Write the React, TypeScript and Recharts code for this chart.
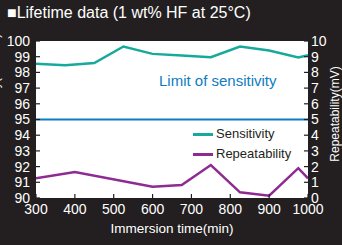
import React from 'react';
import { ComposedChart, Line, XAxis, YAxis, CartesianGrid, ReferenceLine, Legend } from 'recharts';

const sensitivityTimes = [300, 375, 450, 525, 600, 675, 750, 825, 900, 975, 1000];
const sensitivityValues = [98.55, 98.45, 98.6, 99.65, 99.18, 99.08, 98.97, 99.65, 99.4, 98.95, 99.1];
const repeatabilityTimes = [300, 400, 600, 675, 750, 825, 900, 975, 1000];
const repeatabilityValues = [1.25, 1.65, 0.72, 0.83, 2.1, 0.36, 0.15, 1.9, 1.25];
const timeTicks = [300, 400, 500, 600, 700, 800, 900, 1000];
const sensitivityTicks = [90, 91, 92, 93, 94, 95, 96, 97, 98, 99, 100];
const repeatabilityTicks = [0, 1, 2, 3, 4, 5, 6, 7, 8, 9, 10];
const limitOfSensitivity = 95;
const legendOrder = ['Sensitivity', 'Repeatability'];

const sensitivityData = sensitivityTimes.map((t, i) => ({ t, v: sensitivityValues[i] }));
const repeatabilityData = repeatabilityTimes.map((t, i) => ({ t, v: repeatabilityValues[i] }));

const FONT = '"Liberation Sans", Arial, Helvetica, sans-serif';
const BG = '#231f20';
const TEAL = '#17a99b';
const PURPLE = '#8e2a92';
const BLUE = '#0d7cc1';

const tickStyle = { fill: '#ffffff', fontSize: 14, fontFamily: FONT };

const LegendContent = (props: any) => {
  const payload = [...(props.payload || [])].sort(
    (a: any, b: any) => legendOrder.indexOf(a.value) - legendOrder.indexOf(b.value)
  );
  return (
    <div style={{ fontFamily: FONT, fontSize: 13, color: BG }}>
      {payload.map((p: any, i: number) => (
        <div key={i} style={{ display: 'flex', alignItems: 'center', height: 20 }}>
          <span style={{ display: 'inline-block', width: 20, height: 3, background: p.color, marginRight: 3 }} />
          <span style={{ lineHeight: '20px' }}>{p.value}</span>
        </div>
      ))}
    </div>
  );
};

export default function App() {
  return (
    <div style={{ position: 'absolute', left: 0, top: 0, width: 342, height: 245, background: BG, overflow: 'hidden' }}>
      <ComposedChart width={342} height={245} margin={{ top: 41, right: 0, bottom: 0, left: 0 }}>
        <CartesianGrid yAxisId="left" horizontal={false} vertical={false} fill="#ffffff" stroke="none" />
        <XAxis
          type="number"
          dataKey="t"
          domain={[300, 1000]}
          ticks={timeTicks}
          interval={0}
          height={47}
          axisLine={false}
          tickSize={-4}
          tickMargin={10}
          tickLine={{ stroke: BG, strokeWidth: 1.2 }}
          tick={tickStyle}
          allowDataOverflow
        />
        <YAxis
          yAxisId="left"
          orientation="left"
          width={36}
          domain={[90, 100]}
          ticks={sensitivityTicks}
          interval={0}
          axisLine={false}
          tickSize={-4}
          tickMargin={10}
          tickLine={{ stroke: BG, strokeWidth: 1.2 }}
          tick={tickStyle}
          allowDataOverflow
        />
        <YAxis
          yAxisId="right"
          orientation="right"
          width={34}
          domain={[0, 10]}
          ticks={repeatabilityTicks}
          interval={0}
          axisLine={false}
          tickSize={-4}
          tickMargin={7}
          tickLine={{ stroke: BG, strokeWidth: 1.2 }}
          tick={{ ...tickStyle, textAnchor: 'start' }}
          allowDataOverflow
        />
        <ReferenceLine yAxisId="left" y={limitOfSensitivity} stroke={BLUE} strokeWidth={2} />
        <Line
          yAxisId="left"
          data={sensitivityData}
          dataKey="v"
          name="Sensitivity"
          stroke={TEAL}
          strokeWidth={2.5}
          dot={false}
          isAnimationActive={false}
        />
        <Line
          yAxisId="right"
          data={repeatabilityData}
          dataKey="v"
          name="Repeatability"
          stroke={PURPLE}
          strokeWidth={2.5}
          dot={false}
          isAnimationActive={false}
        />
        <Legend
          layout="vertical"
          align="center"
          verticalAlign="middle"
          content={<LegendContent />}
          wrapperStyle={{ position: 'absolute', left: 193, top: 124, width: 110, height: 42 }}
        />
      </ComposedChart>

      <div style={{ position: 'absolute', left: 7, top: 5, fontFamily: FONT, fontSize: 16, lineHeight: '16px', color: '#fff', whiteSpace: 'nowrap' }}>
        ■Lifetime data (1 wt% HF at 25°C)
      </div>
      <div style={{ position: 'absolute', left: 159, top: 72.5, fontFamily: FONT, fontSize: 15, lineHeight: '15px', color: BLUE, whiteSpace: 'nowrap' }}>
        Limit of sensitivity
      </div>
      <div style={{ position: 'absolute', left: 172, top: 229, transform: 'translate(-50%,-50%)', fontFamily: FONT, fontSize: 13.5, lineHeight: '14px', color: '#fff', whiteSpace: 'nowrap' }}>
        Immersion time(min)
      </div>
      <div style={{ position: 'absolute', left: 335, top: 114, transform: 'translate(-50%,-50%) rotate(-90deg)', fontFamily: FONT, fontSize: 12, lineHeight: '12px', color: '#fff', whiteSpace: 'nowrap' }}>
        Repeatability(mV)
      </div>
      <div style={{ position: 'absolute', left: -5, top: 85, transform: 'translate(-50%,-50%) rotate(-90deg)', fontFamily: FONT, fontSize: 12, lineHeight: '12px', color: '#fff', whiteSpace: 'nowrap' }}>
        Sensitivity(mV/dec)
      </div>
    </div>
  );
}
